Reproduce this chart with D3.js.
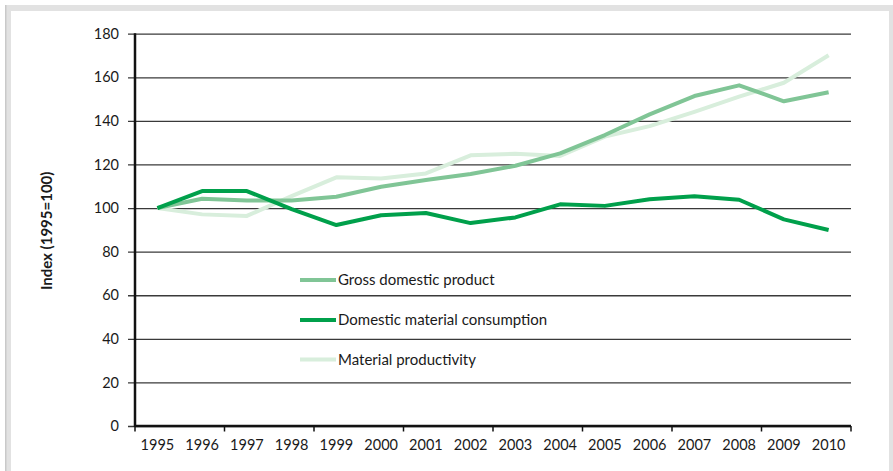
<!DOCTYPE html>
<html>
<head>
<meta charset="utf-8">
<script src="https://cdn.jsdelivr.net/npm/d3@7"></script>
<style>
  html, body { margin: 0; padding: 0; background: #fff; }
  svg { display: block; font-family: Lato, "Open Sans", sans-serif; }
</style>
</head>
<body>
<svg id="chart" width="893" height="471"></svg>
<script>
const years = ["1995","1996","1997","1998","1999","2000","2001","2002","2003","2004","2005","2006","2007","2008","2009","2010"];
const gdp = [100, 104.3, 103.5, 103.5, 105.2, 109.8, 112.9, 115.6, 119.4, 125.1, 133.5, 143.0, 151.4, 156.3, 149.0, 153.1];
const dmc = [100, 107.8, 107.8, 99.5, 92.2, 96.7, 97.7, 93.1, 95.7, 101.7, 101.0, 104.0, 105.4, 103.8, 94.8, 89.9];
const mp  = [100, 97.1, 96.4, 105.5, 114.1, 113.6, 115.9, 124.2, 124.9, 123.9, 132.8, 137.6, 144.1, 151.1, 157.5, 170.1];
const seriesNames = ["Gross domestic product", "Domestic material consumption", "Material productivity"];
const yTicks = [0, 20, 40, 60, 80, 100, 120, 140, 160, 180];
const yTitle = "Index (1995=100)";

const series = [
  { name: seriesNames[0], values: gdp, color: "#80c596" },
  { name: seriesNames[1], values: dmc, color: "#00a04b" },
  { name: seriesNames[2], values: mp,  color: "#d8eedc" }
];

const svg = d3.select("#chart");
const W = 893, H = 471;
const pLeft = 135, pRight = 851, pTop = 33.7, pBottom = 426;

// frame
svg.append("rect").attr("x", 5).attr("y", 5).attr("width", W - 5).attr("height", H - 5).attr("fill", "#e2e2e2");
svg.append("rect").attr("x", 5).attr("y", 5).attr("width", 1.5).attr("height", H - 5).attr("fill", "#c9c9c9");
svg.append("rect").attr("x", 11).attr("y", 11).attr("width", 878).attr("height", H - 11).attr("fill", "#ffffff");

const x = d3.scaleBand().domain(years).range([pLeft, pRight]).paddingInner(0).paddingOuter(0);
const y = d3.scaleLinear().domain([0, 180]).range([pBottom, pTop]);

// gridlines + y ticks
const gy = svg.append("g").attr("transform", `translate(${pLeft},0)`)
  .call(d3.axisLeft(y).tickValues(yTicks).tickSize(-(pRight - pLeft)).tickSizeOuter(0).tickPadding(16));
gy.select(".domain").remove();
gy.selectAll(".tick line").attr("stroke", "#3a3a3a").attr("stroke-width", 1.3).attr("x1", -7);
gy.selectAll(".tick text").attr("font-size", 14.5).attr("fill", "#1a1a1a").attr("font-family", "Lato, sans-serif");

// x axis labels
const gx = svg.append("g").attr("transform", `translate(0,${pBottom})`)
  .call(d3.axisBottom(x).tickSize(0).tickPadding(14));
gx.select(".domain").remove();
gx.selectAll(".tick text").attr("font-size", 14.5).attr("fill", "#1a1a1a").attr("font-family", "Lato, sans-serif");

// x tick marks at band boundaries every two categories
const boundaries = years.filter((d, i) => i % 2 === 0).map(d => x(d)).concat([pRight]);
svg.append("g").selectAll("line").data(boundaries).join("line")
  .attr("x1", d => d).attr("x2", d => d)
  .attr("y1", pBottom).attr("y2", pBottom + 5.5)
  .attr("stroke", "#111").attr("stroke-width", 1.5);

// axis lines
svg.append("line").attr("x1", pLeft).attr("x2", pRight).attr("y1", pBottom).attr("y2", pBottom)
  .attr("stroke", "#111").attr("stroke-width", 2.5);
svg.append("line").attr("x1", pLeft).attr("x2", pLeft).attr("y1", pTop - 0.5).attr("y2", pBottom + 1)
  .attr("stroke", "#111").attr("stroke-width", 2.5);

// y title
svg.append("text")
  .attr("transform", `translate(52,${(pTop + pBottom) / 2 + 1}) rotate(-90)`)
  .attr("text-anchor", "middle")
  .attr("font-size", 15).attr("font-weight", "bold").attr("fill", "#1a1a1a")
  .text(yTitle);

// lines
const line = d3.line().x((d, i) => x(years[i]) + x.bandwidth() / 2).y(d => y(d));
const drawOrder = [series[2], series[0], series[1]];
svg.append("g").selectAll("path").data(drawOrder).join("path")
  .attr("d", d => line(d.values))
  .attr("fill", "none")
  .attr("stroke", d => d.color)
  .attr("stroke-width", 4)
  .attr("stroke-linejoin", "round");

// legend
const legendY = [280, 320, 359.5];
const lg = svg.append("g");
series.forEach((s, i) => {
  lg.append("line").attr("x1", 300).attr("x2", 336).attr("y1", legendY[i]).attr("y2", legendY[i])
    .attr("stroke", s.color).attr("stroke-width", 4);
  lg.append("text").attr("x", 338).attr("y", legendY[i]).attr("dy", "0.35em")
    .attr("font-size", 15).attr("fill", "#1a1a1a").text(s.name);
});
</script>
</body>
</html>
